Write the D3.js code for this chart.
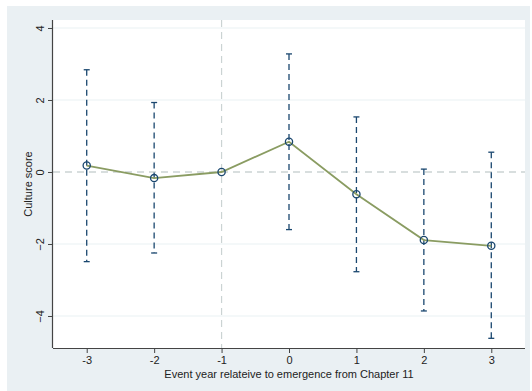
<!DOCTYPE html>
<html>
<head>
<meta charset="utf-8">
<script src="https://cdn.jsdelivr.net/npm/d3@7"></script>
<style>
  html, body { margin: 0; padding: 0; background: #ffffff; }
  svg { display: block; font-family: "Liberation Sans", Arial, Helvetica, sans-serif; }
</style>
</head>
<body>
<svg id="chart" width="532" height="391"></svg>
<script>
// Event-study estimates with 95% confidence intervals
const eventYears = [-3, -2, -1, 0, 1, 2, 3];
const estimates  = [0.18, -0.17, 0.00, 0.84, -0.62, -1.89, -2.05];
const ciUpper    = [2.84, 1.93, null, 3.28, 1.53, 0.08, 0.55];
const ciLower    = [-2.49, -2.25, null, -1.60, -2.77, -3.86, -4.62];
const yTicks     = [-4, -2, 0, 2, 4];
const xTickLabels = ["-3", "-2", "-1", "0", "1", "2", "3"];

const svg = d3.select("#chart");
const W = 532, H = 391;
const plot = { left: 53, right: 525, top: 20, bottom: 348 };

// outer graph region
svg.append("rect").attr("x", 7).attr("y", 6).attr("width", 523).attr("height", H - 6)
  .attr("fill", "#eaf0f3");
// plot region
svg.append("rect").attr("x", plot.left).attr("y", plot.top)
  .attr("width", plot.right - plot.left).attr("height", plot.bottom - plot.top)
  .attr("fill", "#ffffff");

const x = d3.scaleLinear().domain([-3.5, 3.5]).range([plot.left, plot.right]);
const y = d3.scaleLinear().domain([-4.889, 4.222]).range([plot.bottom, plot.top]);

// horizontal grid lines
svg.append("g").selectAll("line").data(yTicks.filter(d => d !== 0)).join("line")
  .attr("x1", plot.left).attr("x2", plot.right)
  .attr("y1", d => y(d)).attr("y2", d => y(d))
  .attr("stroke", "#eaf2f3").attr("stroke-width", 1.2);

// reference lines: y = 0 and x = -1
svg.append("line").attr("x1", plot.left).attr("x2", plot.right)
  .attr("y1", y(0)).attr("y2", y(0))
  .attr("stroke", "#cbd3d3").attr("stroke-width", 1.6).attr("stroke-dasharray", "7,5");
svg.append("line").attr("x1", x(-1)).attr("x2", x(-1))
  .attr("y1", plot.top).attr("y2", plot.bottom)
  .attr("stroke", "#cbd3d3").attr("stroke-width", 1.2).attr("stroke-dasharray", "7,5");

// axes
const yAxis = d3.axisLeft(y).tickValues(yTicks).tickSize(5).tickPadding(6).tickFormat(d3.format("d"));
const gy = svg.append("g").attr("transform", `translate(${plot.left},0)`).call(yAxis);
gy.select(".domain").attr("d", `M-0.5,${plot.top}V${plot.bottom}`).attr("stroke", "#444").attr("stroke-width", 1.2);
gy.selectAll(".tick line").attr("stroke", "#444");
gy.selectAll(".tick text")
  .attr("font-size", 11).attr("fill", "#222")
  .attr("text-anchor", "middle")
  .attr("x", null).attr("dy", null)
  .attr("transform", "translate(-12,0) rotate(-90)")
  .attr("y", 0).attr("dominant-baseline", "middle");

const xAxis = d3.axisBottom(x).tickValues(eventYears).tickSize(5).tickPadding(3)
  .tickFormat((d, i) => xTickLabels[i]);
const gx = svg.append("g").attr("transform", `translate(0,${plot.bottom})`).call(xAxis);
gx.select(".domain").attr("d", `M${plot.left},0.5H${plot.right}`).attr("stroke", "#444").attr("stroke-width", 1.2);
gx.selectAll(".tick line").attr("stroke", "#444");
gx.selectAll(".tick text").attr("font-size", 11).attr("fill", "#222");

// axis titles
svg.append("text").attr("x", (plot.left + plot.right) / 2).attr("y", 378)
  .attr("text-anchor", "middle").attr("font-size", 11).attr("fill", "#222")
  .text("Event year relateive to emergence from Chapter 11");
svg.append("text").attr("transform", `translate(32,${(plot.top + plot.bottom) / 2}) rotate(-90)`)
  .attr("text-anchor", "middle").attr("font-size", 11).attr("fill", "#222")
  .text("Culture score");

// confidence intervals (dashed spikes with caps)
const navy = "#1a476f";
const ci = eventYears.map((d, i) => ({ x: d, lo: ciLower[i], hi: ciUpper[i] })).filter(d => d.hi !== null);
const gci = svg.append("g");
gci.selectAll("line.spike").data(ci).join("line").attr("class", "spike")
  .attr("x1", d => x(d.x)).attr("x2", d => x(d.x))
  .attr("y1", d => y(d.hi)).attr("y2", d => y(d.lo))
  .attr("stroke", navy).attr("stroke-width", 1.3).attr("stroke-dasharray", "6,4");
gci.selectAll("line.capHi").data(ci).join("line").attr("class", "capHi")
  .attr("x1", d => x(d.x) - 3).attr("x2", d => x(d.x) + 3)
  .attr("y1", d => y(d.hi)).attr("y2", d => y(d.hi))
  .attr("stroke", navy).attr("stroke-width", 1.3);
gci.selectAll("line.capLo").data(ci).join("line").attr("class", "capLo")
  .attr("x1", d => x(d.x) - 3).attr("x2", d => x(d.x) + 3)
  .attr("y1", d => y(d.lo)).attr("y2", d => y(d.lo))
  .attr("stroke", navy).attr("stroke-width", 1.3);

// estimate line
const pts = eventYears.map((d, i) => ({ x: d, v: estimates[i] }));
svg.append("path").datum(pts)
  .attr("d", d3.line().x(d => x(d.x)).y(d => y(d.v)))
  .attr("fill", "none").attr("stroke", "#8a9c62").attr("stroke-width", 1.8);

// hollow point markers
svg.append("g").selectAll("circle").data(pts).join("circle")
  .attr("cx", d => x(d.x)).attr("cy", d => y(d.v)).attr("r", 3.6)
  .attr("fill", "none").attr("stroke", navy).attr("stroke-width", 1.3);
</script>
</body>
</html>
